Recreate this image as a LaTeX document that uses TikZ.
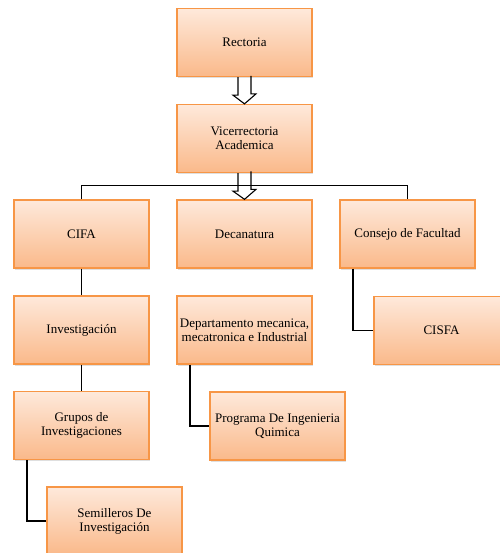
\documentclass[tikz,border=0pt]{standalone}
\usepackage{fontspec}
\setmainfont{Liberation Serif}
\usetikzlibrary{shadows}

\definecolor{boxtop}{HTML}{FEE9DB}
\definecolor{boxbottom}{HTML}{FAB98A}
\definecolor{boxline}{HTML}{F79646}

\tikzset{
  unitbox/.style={draw=boxline, line width=1.3pt, top color=boxtop, bottom color=boxbottom,
    minimum width=135pt, minimum height=68pt, inner sep=0pt, align=center,
    font=\fontsize{13}{14}\selectfont,
    drop shadow={shadow xshift=1pt, shadow yshift=-1.5pt, opacity=0.25}},
  link/.style={line width=1.6pt, black},
  hollowarrow/.style={line width=1.1pt, black, line join=miter}
}

\begin{document}
\begin{tikzpicture}[x=1pt, y=-1pt]
        \useasboundingbox (0,0) rectangle (499,553);

        % Top of the chart
        \node[unitbox] (rectoria) at (244.5, 42.5) {Rectoria};
        \node[unitbox] (vice) at (244.5, 138.5) {Vicerrectoria\\Academica};

        % Second level
        \node[unitbox] (cifa) at (81.5, 234) {CIFA};
        \node[unitbox] (decanatura) at (244.5, 234) {Decanatura};
        \node[unitbox] (consejo) at (407.5, 234) {Consejo de Facultad};

        % Third level
        \node[unitbox] (investigacion) at (81.5, 330) {Investigación};
        \node[unitbox] (departamento) at (244.5, 330) {Departamento mecanica,\\mecatronica e Industrial};
        \node[unitbox] (cisfa) at (441.5, 330.5) {CISFA};

        % Lower levels
        \node[unitbox] (grupos) at (81.5, 425.5) {Grupos de\\Investigaciones};
        \node[unitbox] (programa) at (277.5, 426) {Programa De Ingenieria\\Quimica};
        \node[unitbox] (semilleros) at (114.5, 521) {Semilleros De\\Investigación};

        % Branch line to the second level
        \draw[link] (cifa.north) -- ++(0,-14) -| (consejo.north);

        % Hollow arrows down the middle
        \draw[hollowarrow] (rectoria.south) ++(-6.5,0) -- ++(0,18) -- ++(-5,0) -- (vice.north)
              -- ++(11.5,-10) -- ++(-5,0) -- ++(0,-18);
        \draw[hollowarrow] (vice.south) ++(-6.5,0) -- ++(0,18) -- ++(-5,0) -- (decanatura.north)
              -- ++(11.5,-10) -- ++(-5,0) -- ++(0,-18);

        % Straight links under CIFA
        \draw[link] (cifa) -- (investigacion);
        \draw[link] (investigacion) -- (grupos);

        % Elbow links to the shifted boxes
        \draw[link] ([xshift=-54.5pt]consejo.south) |- (cisfa.west);
        \draw[link] ([xshift=-54.5pt]departamento.south) |- (programa.west);
        \draw[link] ([xshift=-54.5pt]grupos.south) |- (semilleros.west);
\end{tikzpicture}
\end{document}
